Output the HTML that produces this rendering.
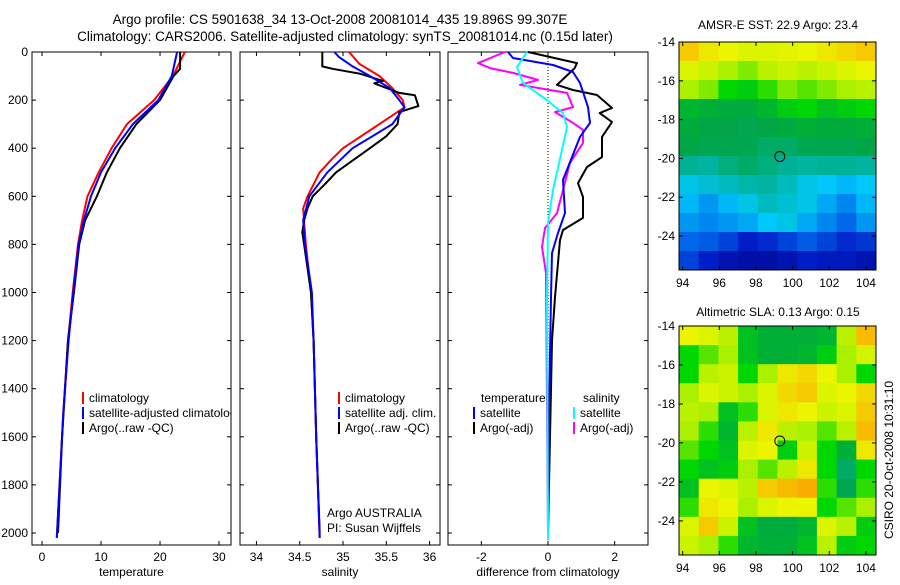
<!DOCTYPE html>
<html><head><meta charset="utf-8"><style>
body{margin:0;background:#fff}
svg text{font-family:"Liberation Sans",sans-serif;fill:#000}
</style></head><body>
<svg id="c" width="900" height="580" xmlns="http://www.w3.org/2000/svg">
<text x="340" y="24" font-size="13.5" text-anchor="middle">Argo profile: CS 5901638_34 13-Oct-2008 20081014_435 19.896S 99.307E</text>
<text x="345" y="41" font-size="13.5" text-anchor="middle">Climatology: CARS2006. Satellite-adjusted climatology: synTS_20081014.nc (0.15d later)</text>
<text x="778" y="29" font-size="12" text-anchor="middle">AMSR-E SST: 22.9 Argo: 23.4</text>
<text x="778" y="316" font-size="12" text-anchor="middle">Altimetric SLA: 0.13 Argo: 0.15</text>
<text transform="translate(893,460) rotate(-90)" font-size="12" text-anchor="middle">CSIRO 20-Oct-2008 10:31:10</text>
<text x="327" y="517" font-size="12">Argo AUSTRALIA</text>
<text x="327" y="532" font-size="12">PI: Susan Wijffels</text>
</svg>
<script>
const depthTicks=[0,200,400,600,800,1000,1200,1400,1600,1800,2000];
const tempTicks=[0,10,20,30];
const salTicks=[34,34.5,35,35.5,36];
const diffTicks=[-2,0,2];
const lonTicks=[94,96,98,100,102,104];
const latTicks=[-14,-16,-18,-20,-22,-24];
const argoLon=99.3, argoLat=-19.9;
// temperature profiles
const tClimD=[0,100,200,300,400,500,600,700,800,1000,1200,1500,2020];
const tClimV=[24.2,22.2,19,14.4,11.8,9.6,7.7,6.8,6.1,5.2,4.4,3.6,2.5];
const tSatD=[0,100,200,300,400,500,600,700,800,1000,1200,1500,2020];
const tSatV=[22.9,22,19.7,15.4,12.4,10,8.3,7.1,6.2,5.3,4.5,3.6,2.5];
const tArgoD=[0,70,100,200,300,400,500,600,700,800,1000,1200,1600,2000];
const tArgoV=[23.4,23.4,22.3,20,16,13.2,11,9.3,7.3,6.3,5.4,4.4,3.4,2.7];
// salinity profiles
const sClimD=[0,50,100,150,200,230,300,400,450,500,600,650,800,1000,1200,1600,2020];
const sClimV=[35.07,35.19,35.42,35.57,35.69,35.71,35.42,35.0,34.86,34.73,34.59,34.54,34.57,34.63,34.66,34.69,34.73];
const sSatD=[0,20,60,100,150,200,230,260,300,400,500,600,700,800,1000,1200,1600,2020];
const sSatV=[34.9,34.95,35.11,35.31,35.54,35.65,35.71,35.65,35.57,35.11,34.82,34.61,34.54,34.56,34.64,34.66,34.69,34.73];
const sArgoD=[0,60,70,90,120,130,170,180,225,250,300,350,400,500,550,600,650,700,750,800,1000,1200,1600,2000];
const sArgoV=[34.76,34.76,34.88,35.19,35.46,35.36,35.65,35.83,35.87,35.65,35.63,35.5,35.31,34.92,34.79,34.65,34.59,34.55,34.53,34.55,34.63,34.66,34.69,34.73];
// differences
const dTArgoD=[0,46,67,137,158,179,233,254,291,353,437,478,545,603,690,740,782,1019,1200,2000];
const dTArgoV=[-0.6,0.87,0.8,0.27,0.75,1.47,1.92,1.55,1.92,1.62,1.62,1.17,0.9,1.05,1.05,0.45,0.36,0.21,0.12,0];
const dTSatD=[0,25,54,83,129,229,295,353,437,532,670,752,836,1019,1500,2000];
const dTSatV=[-1.2,-1.05,0.15,0.75,0.96,1.2,1.26,0.96,0.72,0.45,0.51,0.3,0.12,0.09,0.03,0];
const dSArgoD=[0,46,67,87,116,137,170,229,250,295,324,378,461,574,670,732,811,919,2000];
const dSArgoV=[-1.29,-2.1,-1.74,-1.05,-0.3,-0.84,0.57,0.75,0.21,0.75,1.05,1.05,0.66,0.45,0.27,-0.09,-0.18,-0.06,0];
const dSSatD=[0,62,129,200,254,312,407,574,711,1019,2030];
const dSSatV=[-0.63,-0.93,-0.75,-0.03,0.45,0.57,0.42,0.15,0,-0.03,0];
// map grids (colour index 0..1), rows north->south
const sstGrid=[
[.84,.80,.78,.76,.76,.77,.78,.80,.82,.84],
[.76,.74,.70,.68,.72,.74,.72,.74,.76,.78],
[.70,.68,.62,.60,.64,.68,.66,.68,.70,.72],
[.56,.55,.54,.54,.56,.60,.62,.58,.60,.62],
[.54,.53,.53,.52,.53,.54,.55,.54,.54,.55],
[.53,.52,.52,.52,.50,.50,.52,.52,.52,.53],
[.46,.45,.48,.50,.48,.46,.45,.46,.46,.45],
[.38,.40,.42,.44,.45,.42,.38,.36,.34,.36],
[.34,.30,.34,.38,.42,.40,.38,.32,.28,.34],
[.30,.28,.30,.32,.36,.38,.32,.28,.24,.30],
[.24,.22,.18,.12,.14,.18,.22,.18,.14,.16],
[.18,.12,.08,.06,.06,.08,.12,.10,.10,.08]];
const slaGrid=[
[.78,.76,.72,.58,.55,.55,.55,.56,.72,.86],
[.62,.66,.70,.58,.55,.55,.56,.60,.70,.75],
[.62,.72,.74,.62,.70,.80,.82,.78,.70,.62],
[.70,.76,.74,.70,.76,.82,.84,.76,.78,.82],
[.72,.70,.58,.64,.76,.80,.78,.74,.76,.84],
[.70,.64,.56,.72,.80,.72,.70,.66,.72,.86],
[.66,.62,.58,.76,.78,.60,.74,.62,.55,.80],
[.62,.58,.60,.70,.66,.72,.80,.62,.50,.62],
[.58,.78,.76,.72,.84,.86,.88,.64,.52,.64],
[.64,.80,.78,.70,.76,.78,.78,.62,.66,.70],
[.76,.84,.74,.58,.54,.54,.56,.76,.72,.60],
[.74,.70,.64,.56,.55,.55,.58,.72,.60,.62]];

const svg=document.getElementById('c');const NS='http://www.w3.org/2000/svg';
function mk(t,a,p){const e=document.createElementNS(NS,t);for(const k in a)e.setAttribute(k,a[k]);(p||svg).appendChild(e);return e;}
const Y0=52,YB=545,KY=0.2405;
const yD=d=>Y0+d*KY;
const panels=[{x0:32,x1:231,v0:-1.7,v1:32.03,ticks:tempTicks,label:'temperature',n:'temperature'},
{x0:240,x1:440,v0:33.81,v1:36.12,ticks:salTicks,label:'salinity',n:'salinity'},
{x0:448,x1:648,v0:-3.0,v1:3.0,ticks:diffTicks,label:'difference from climatology',n:'difference'}];
panels.forEach(p=>{p.x=v=>p.x0+(v-p.v0)/(p.v1-p.v0)*(p.x1-p.x0);});
panels.forEach((p,i)=>{
  const g=mk('g',{});
  
  
  const f=mk('rect',{x:p.x0,y:Y0,width:p.x1-p.x0,height:YB-Y0,fill:'none',stroke:'#000','stroke-width':1},g);
  
  
  depthTicks.forEach(d=>{const y=yD(d);
    mk('line',{x1:p.x0,x2:p.x0+4,y1:y,y2:y,stroke:'#000'},g);
    mk('line',{x1:p.x1,x2:p.x1-4,y1:y,y2:y,stroke:'#000'},g);
    if(i==0){const t=mk('text',{x:28,y:y+4,'font-size':12,'text-anchor':'end'},g);t.textContent=d;
      
      }
  });
  p.ticks.forEach(v=>{const x=p.x(v);
    mk('line',{x1:x,x2:x,y1:Y0,y2:Y0+4,stroke:'#000'},g);
    mk('line',{x1:x,x2:x,y1:YB,y2:YB-4,stroke:'#000'},g);
    const t=mk('text',{x:x,y:561,'font-size':12,'text-anchor':'middle'},g);t.textContent=v;
    
    
  });
  const xl=mk('text',{x:(p.x0+p.x1)/2,y:576,'font-size':12,'text-anchor':'middle'},g);xl.textContent=p.label;
  
  
});
function line(p,D,V,col,name,w){
  const pts=D.map((d,k)=>p.x(V[k]).toFixed(1)+','+yD(d).toFixed(1)).join(' ');
  const e=mk('polyline',{points:pts,fill:'none',stroke:col,'stroke-width':w||2,'stroke-linejoin':'round'});
  
  
}
const P=panels;
const z=mk('line',{x1:P[2].x(0),x2:P[2].x(0),y1:Y0,y2:yD(1300),stroke:'#000','stroke-dasharray':'1,2'});


line(P[0],tClimD,tClimV,'#f00','temp-climatology-line');
line(P[0],tArgoD,tArgoV,'#000','temp-argo-line');
line(P[0],tSatD,tSatV,'#00f','temp-satellite-line');
line(P[1],sClimD,sClimV,'#f00','sal-climatology-line');
line(P[1],sArgoD,sArgoV,'#000','sal-argo-line');
line(P[1],sSatD,sSatV,'#00f','sal-satellite-line');
line(P[2],dTArgoD,dTArgoV,'#000','diff-temp-argo-line');
line(P[2],dSArgoD,dSArgoV,'#f0f','diff-sal-argo-line');
line(P[2],dTSatD,dTSatV,'#00f','diff-temp-satellite-line');
line(P[2],dSSatD,dSSatV,'#0ff','diff-sal-satellite-line');
function leg(x,y,col,txt,name,clipR){
  const g=mk('g',{});
  
  
  mk('line',{x1:x,x2:x,y1:y-10,y2:y+2,stroke:col,'stroke-width':2},g);
  const t=mk('text',{x:x+6,y:y,'font-size':12},g);t.textContent=txt;
  if(clipR){const cp=mk('clipPath',{id:'cl'+name},g);mk('rect',{x:0,y:0,width:clipR,height:580},cp);t.setAttribute('clip-path','url(#cl'+name+')');}
}
leg(83,402,'#f00','climatology','legend-temp-climatology');
leg(83,417,'#00f','satellite-adjusted climatology','legend-temp-satellite',231);
leg(83,432,'#000','Argo(..raw -QC)','legend-temp-argo');
leg(339,402,'#f00','climatology','legend-sal-climatology');
leg(339,417,'#00f','satellite adj. clim.','legend-sal-satellite');
leg(339,432,'#000','Argo(..raw -QC)','legend-sal-argo');
const th=mk('text',{x:481,y:402,'font-size':12});th.textContent='temperature';


const sh=mk('text',{x:583,y:402,'font-size':12});sh.textContent='salinity';


leg(474,417,'#00f','satellite','legend-diff-temp-satellite');
leg(474,432,'#000','Argo(-adj)','legend-diff-temp-argo');
leg(574,417,'#0ff','satellite','legend-diff-sal-satellite');
leg(574,432,'#f0f','Argo(-adj)','legend-diff-sal-argo');
const stops=[[0,0,0,130],[.12,0,30,200],[.25,0,110,235],[.36,0,200,250],[.45,0,180,160],[.53,0,165,70],[.62,0,215,0],[.70,170,240,0],[.78,235,245,0],[.87,250,180,0],[1,230,90,0]];
function cmap(v){for(let i=1;i<stops.length;i++){if(v<=stops[i][0]){const a=stops[i-1],b=stops[i],t=(v-a[0])/(b[0]-a[0]);return 'rgb('+[1,2,3].map(k=>Math.round(a[k]+(b[k]-a[k])*t)).join(',')+')';}}return 'rgb(230,90,0)';}
function map(grid,x0,x1,y0,y1,name){
  const lon0=93.8,lon1=104.55,lat0=-14,lat1=-25.75;
  const X=l=>x0+(l-lon0)/(lon1-lon0)*(x1-x0), Yl=l=>y0+(l-lat0)/(lat1-lat0)*(y1-y0);
  const g=mk('g',{});
  
  
  const R=grid.length,C=grid[0].length,cw=(x1-x0)/C,ch=(y1-y0)/R;
  grid.forEach((row,r)=>row.forEach((v,c)=>{
    const e=mk('rect',{x:x0+c*cw,y:y0+r*ch,width:cw+0.5,height:ch+0.5,fill:cmap(v)},g);
    
    
  }));
  mk('rect',{x:x0,y:y0,width:x1-x0,height:y1-y0,fill:'none',stroke:'#000'},g);
  lonTicks.forEach(l=>{const x=X(l);mk('line',{x1:x,x2:x,y1:y1,y2:y1-4,stroke:'#000'},g);mk('line',{x1:x,x2:x,y1:y0,y2:y0+4,stroke:'#000'},g);
    const t=mk('text',{x:x,y:y1+17,'font-size':12,'text-anchor':'middle'},g);t.textContent=l;
    
    });
  latTicks.forEach(l=>{const y=Yl(l);mk('line',{x1:x0,x2:x0+4,y1:y,y2:y,stroke:'#000'},g);mk('line',{x1:x1,x2:x1-4,y1:y,y2:y,stroke:'#000'},g);
    const t=mk('text',{x:x0-4,y:y+4,'font-size':12,'text-anchor':'end'},g);t.textContent=l;
    
    });
  const ci=mk('circle',{cx:X(argoLon),cy:Yl(argoLat),r:5,fill:'none',stroke:'#000'},g);
  
  
}
map(sstGrid,679,876,42,270,'sst-map');
map(slaGrid,679,876,326,555,'sla-map');
</script>
</body></html>
